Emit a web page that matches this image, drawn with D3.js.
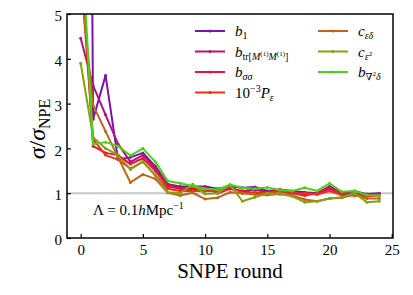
<!DOCTYPE html>
<html>
<head>
<meta charset="utf-8">
<script src="https://cdn.jsdelivr.net/npm/d3@7"></script>
<style>
  body { margin: 0; background: #fff; }
  text { font-family: "Liberation Serif", "DejaVu Serif", serif; fill: #000; }
  .tick text { font-size: 15px; }
  .tick line { stroke: #000; stroke-width: 1.2; }
  .domain { display: none; }
</style>
</head>
<body>
<div id="chart"></div>
<script>
"use strict";

// SNPE rounds 0..24
const rounds = d3.range(0, 25);

const b1 =     [40, 2.65, 3.63, 1.75, 1.8, 1.9, 1.6, 1.2, 1.15, 1.15, 1.15, 1.1, 1.15, 1.12, 1.14, 1.05, 1.08, 1.05, 1.02, 1.0, 1.15, 1.0, 1.05, 0.98, 1.0];
const bTr =    [4.46, 3.4, 2.75, 2.1, 1.7, 1.85, 1.55, 1.2, 1.12, 1.1, 1.05, 1.08, 1.1, 1.05, 1.08, 1.02, 1.05, 1.0, 1.0, 0.98, 1.1, 0.95, 1.0, 0.95, 0.97];
const bSS =    [6.5, 2.05, 1.9, 1.85, 1.65, 1.78, 1.5, 1.15, 1.1, 1.08, 1.12, 1.0, 1.1, 1.05, 1.0, 1.02, 1.08, 1.0, 0.95, 1.0, 1.12, 1.0, 0.98, 0.95, 0.98];
const pEps =   [6.0, 2.2, 1.85, 1.75, 1.55, 1.7, 1.4, 1.1, 1.05, 1.05, 1.05, 1.05, 1.15, 1.0, 1.02, 1.0, 1.05, 0.98, 1.0, 0.97, 1.05, 0.96, 0.95, 0.93, 0.95];
const cED =    [5.7, 2.96, 2.38, 1.8, 1.24, 1.42, 1.32, 1.01, 0.95, 1.01, 0.87, 0.9, 1.02, 1.0, 0.97, 0.96, 0.98, 0.95, 0.86, 0.82, 0.88, 0.9, 0.97, 0.88, 0.88];
const cE2 =    [3.9, 2.25, 2.0, 1.85, 1.53, 1.71, 1.4, 1.02, 1.0, 1.2, 0.98, 1.0, 1.19, 0.82, 0.91, 1.0, 0.98, 0.93, 0.8, 0.82, 0.88, 0.91, 1.0, 0.8, 0.82];
const bLap =   [7.0, 2.09, 2.14, 2.05, 1.84, 2.0, 1.7, 1.27, 1.22, 1.16, 1.1, 1.08, 1.19, 1.12, 1.1, 1.13, 1.07, 1.05, 1.12, 1.05, 1.22, 1.03, 1.05, 0.96, 0.95];

const xTicks = [0, 5, 10, 15, 20, 25];
const yTicks = [0, 1, 2, 3, 4, 5];

const series = [
  { data: b1,   color: "#7a14aa", col: 0, row: 0, label: "b1" },
  { data: bTr,  color: "#b0147a", col: 0, row: 1, label: "btr" },
  { data: bSS,  color: "#e6143c", col: 0, row: 2, label: "bss" },
  { data: pEps, color: "#ec3214", col: 0, row: 3, label: "pe" },
  { data: cED,  color: "#c0641a", col: 1, row: 0, label: "ced" },
  { data: cE2,  color: "#88a014", col: 1, row: 1, label: "ce2" },
  { data: bLap, color: "#48d218", col: 1, row: 2, label: "blap" }
];

const W = 413, H = 295;
const margin = { top: 14, right: 20, bottom: 57, left: 67 };
const width = W - margin.left - margin.right;
const height = H - margin.top - margin.bottom;

const svg = d3.select("#chart").append("svg")
  .attr("width", W).attr("height", H);

const g = svg.append("g")
  .attr("transform", `translate(${margin.left},${margin.top})`);

const x = d3.scaleLinear().domain([-1.1, 25.1]).range([0, width]);
const y = d3.scaleLinear().domain([0, 5]).range([height, 0]);

g.append("defs").append("clipPath").attr("id", "clip")
  .append("rect").attr("width", width).attr("height", height);

// reference line at 1
g.append("line")
  .attr("x1", 0).attr("x2", width)
  .attr("y1", y(1)).attr("y2", y(1))
  .attr("stroke", "#c8c8c8").attr("stroke-width", 2);

const lineGen = d3.line()
  .x((d, i) => x(rounds[i]))
  .y(d => y(d));

const plot = g.append("g").attr("clip-path", "url(#clip)");
series.forEach(s => {
  plot.append("path")
    .attr("d", lineGen(s.data))
    .attr("fill", "none")
    .attr("stroke", s.color)
    .attr("stroke-width", 2)
    .attr("stroke-linejoin", "round");
  plot.selectAll(null).data(s.data).enter().append("circle")
    .attr("cx", (d, i) => x(rounds[i]))
    .attr("cy", d => y(d))
    .attr("r", 1.5)
    .attr("fill", s.color);
});

// axes, ticks pointing inward
g.append("g")
  .attr("transform", `translate(0,${height})`)
  .call(d3.axisBottom(x).tickValues(xTicks).tickFormat(d3.format("d")).tickSize(-4).tickPadding(6))
  .selectAll(".tick text").attr("dy", "0.72em");

g.append("g")
  .call(d3.axisLeft(y).tickValues(yTicks).tickFormat(d3.format("d")).tickSize(-4).tickPadding(5))
  .selectAll(".tick text").attr("dy", "0.45em");

g.append("rect")
  .attr("width", width).attr("height", height)
  .attr("fill", "none").attr("stroke", "#000").attr("stroke-width", 1.5);

// axis labels
svg.append("text")
  .attr("x", margin.left + width / 2).attr("y", 278)
  .attr("text-anchor", "middle")
  .style("font-size", "21px")
  .text("SNPE round");

const yl = svg.append("text")
  .attr("transform", `translate(45,${margin.top + height / 2 + 3}) rotate(-90)`)
  .attr("text-anchor", "middle")
  .style("font-size", "24px");
yl.append("tspan").style("font-style", "italic").text("σ");
yl.append("tspan").text("/");
yl.append("tspan").style("font-style", "italic").text("σ");
yl.append("tspan").attr("dy", 5).style("font-size", "16px").text("NPE");

// annotation
const ann = g.append("text")
  .attr("x", 26).attr("y", 201)
  .style("font-size", "15px");
ann.append("tspan").text("Λ = 0.1");
ann.append("tspan").style("font-style", "italic").text("h");
ann.append("tspan").text("Mpc");
ann.append("tspan").attr("dy", -6).style("font-size", "10px").text("−1");

// legend
const leg = svg.append("g");
const colX = [195, 318];
const rowY = [31, 51.5, 72, 92.5];

function sub(t, txt, italic, size) {
  return t.append("tspan").style("font-size", size || "10px")
    .style("font-style", italic ? "italic" : "normal").text(txt);
}

series.forEach(s => {
  const lx = colX[s.col], ly = rowY[s.row];
  leg.append("line")
    .attr("x1", lx).attr("x2", lx + 30).attr("y1", ly).attr("y2", ly)
    .attr("stroke", s.color).attr("stroke-width", 2);
  leg.append("circle").attr("cx", lx + 15).attr("cy", ly).attr("r", 1.5).attr("fill", s.color);

  const t = leg.append("text").attr("x", lx + 40).attr("y", ly + 5)
    .style("font-size", "15px");
  const base = (txt) => t.append("tspan").style("font-style", "italic").text(txt);
  if (s.label === "b1") {
    base("b");
    sub(t, "1").attr("dy", 3);
  } else if (s.label === "btr") {
    base("b");
    sub(t, "tr[").attr("dy", 3);
    sub(t, "M", true);
    sub(t, "(1)", false, "7px").attr("dy", -4);
    sub(t, "M", true).attr("dy", 4);
    sub(t, "(1)", false, "7px").attr("dy", -4);
    sub(t, "]").attr("dy", 4);
  } else if (s.label === "bss") {
    base("b");
    sub(t, "σσ", true).attr("dy", 3);
  } else if (s.label === "pe") {
    t.append("tspan").text("10");
    sub(t, "−3").attr("dy", -6);
    base("P").attr("dy", 6);
    sub(t, "ε", true).attr("dy", 3);
  } else if (s.label === "ced") {
    base("c");
    sub(t, "εδ", true).attr("dy", 3);
  } else if (s.label === "ce2") {
    base("c");
    sub(t, "ε", true).attr("dy", 3);
    sub(t, "2", false, "7px").attr("dy", -4);
  } else if (s.label === "blap") {
    base("b");
    sub(t, "∇").attr("dy", 3);
    sub(t, "2", false, "7px").attr("dy", -4);
    sub(t, "δ", true).attr("dy", 4);
  }
});
</script>
</body>
</html>
